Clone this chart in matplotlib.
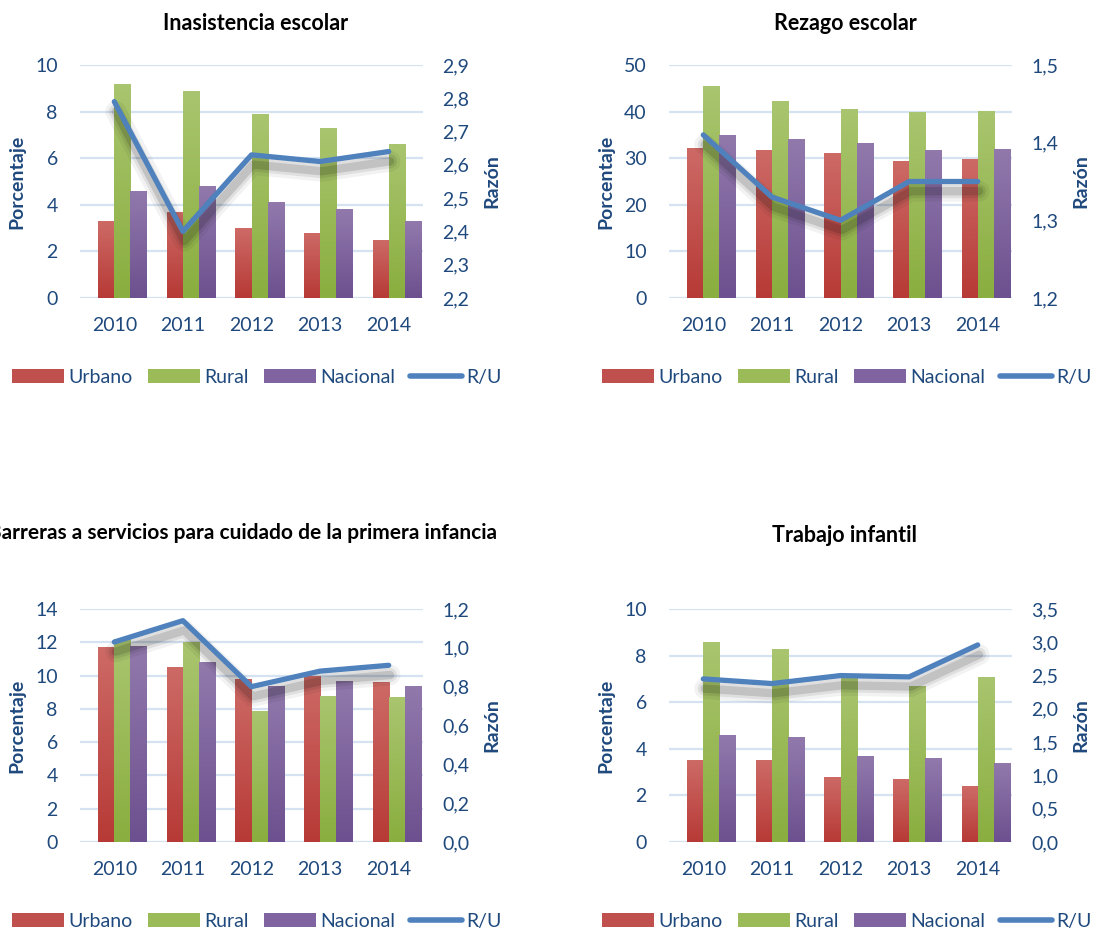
import numpy as np
import matplotlib
matplotlib.use('Agg')
import matplotlib.pyplot as plt
from matplotlib.colors import LinearSegmentedColormap
from matplotlib.lines import Line2D
from matplotlib.patches import Patch
from matplotlib.ticker import FuncFormatter, MultipleLocator
import matplotlib.patheffects as pe

plt.rcParams['font.family'] = ['Lato', 'DejaVu Sans']

years = ['2010', '2011', '2012', '2013', '2014']
series_names = ['Urbano', 'Rural', 'Nacional', 'R/U']

# Inasistencia escolar
inas_urbano = [3.3, 3.7, 3.0, 2.8, 2.5]
inas_rural = [9.2, 8.9, 7.9, 7.3, 6.6]
inas_nacional = [4.6, 4.8, 4.1, 3.8, 3.3]
inas_ru = [2.79, 2.40, 2.63, 2.61, 2.64]

# Rezago escolar
rez_urbano = [32.2, 31.8, 31.1, 29.4, 29.9]
rez_rural = [45.5, 42.3, 40.6, 39.9, 40.1]
rez_nacional = [35.0, 34.1, 33.3, 31.8, 32.0]
rez_ru = [1.41, 1.33, 1.30, 1.35, 1.35]

# Barreras a servicios para cuidado de la primera infancia
barr_urbano = [11.7, 10.5, 9.8, 10.0, 9.6]
barr_rural = [12.2, 12.0, 7.9, 8.8, 8.7]
barr_nacional = [11.8, 10.8, 9.4, 9.7, 9.4]
barr_ru = [1.03, 1.14, 0.80, 0.88, 0.91]

# Trabajo infantil
trab_urbano = [3.5, 3.5, 2.8, 2.7, 2.4]
trab_rural = [8.6, 8.3, 7.1, 6.7, 7.1]
trab_nacional = [4.6, 4.5, 3.7, 3.6, 3.4]
trab_ru = [2.45, 2.38, 2.50, 2.48, 2.96]

TXT = '#1f497d'
GRID = '#d5e2f2'
LINE = '#4f81bd'
grads = [('#cd6a66', '#b73a36'), ('#a9c56f', '#8aae3f'), ('#9179ac', '#6d508f')]
solid = ['#c0504d', '#9bbb59', '#8064a2']

TICK_FS = 14
LABEL_FS = 14
TITLE_FS = 15.5
LEG_FS = 14

W, H = 1093, 930
fig = plt.figure(figsize=(W / 100, H / 100), dpi=100)


def px_axes(x0, ytop, w, h):
    return fig.add_axes([x0 / W, 1 - (ytop + h) / H, w / W, h / H])


def comma(v, pos=None):
    return ('%.1f' % v).replace('.', ',')


def panel(rect, title, title_x, title_dy, title_fs, urb, rur, nac, ru, lmax, lstep, rmin, rmax, rstep):
    ax = px_axes(*rect)
    x = np.arange(len(years))
    wbar = 0.2333
    offs = [-0.1167, 0.1167, 0.35]
    for vals, off, (ctop, cbot), sc in zip([urb, rur, nac], offs, grads, solid):
        bars = ax.bar(x + off, vals, width=wbar, color=sc, zorder=2, linewidth=0)
        cmap = LinearSegmentedColormap.from_list('g', [cbot, ctop])
        grad = np.linspace(0, 1, 64).reshape(-1, 1)
        for b in bars:
            bx, by = b.get_x(), b.get_y()
            im = ax.imshow(grad, cmap=cmap, extent=[bx, bx + b.get_width(), by, by + b.get_height()],
                           origin='lower', aspect='auto', zorder=3, interpolation='bilinear')
            im.set_clip_path(b)
    ax.set_xlim(-0.5, len(years) - 0.5)
    ax.set_ylim(0, lmax)
    ax.set_aspect('auto')
    ax.yaxis.set_major_locator(MultipleLocator(lstep))
    ax.grid(axis='y', color=GRID, linewidth=1.6, zorder=0)
    ax.set_axisbelow(True)
    for s in ax.spines.values():
        s.set_visible(False)
    ax.set_xticks(x)
    ax.set_xticklabels(years)
    ax.tick_params(axis='both', length=0, labelsize=TICK_FS, labelcolor=TXT)
    ax.tick_params(axis='y', pad=16)
    ax.tick_params(axis='x', pad=14)
    ax.set_ylabel('Porcentaje', fontsize=LABEL_FS, fontweight='bold', color=TXT)
    ax.yaxis.set_label_coords(-0.16, 0.5)

    ax2 = ax.twinx()
    ax2.plot(x, ru, color=LINE, linewidth=3.8, solid_joinstyle='round', solid_capstyle='round', zorder=5,
             path_effects=[pe.SimpleLineShadow(offset=(1, -7), shadow_color='#000000', alpha=0.05, linewidth=15),
                           pe.SimpleLineShadow(offset=(1, -7), shadow_color='#000000', alpha=0.08, linewidth=10),
                           pe.SimpleLineShadow(offset=(1, -7), shadow_color='#000000', alpha=0.13, linewidth=6),
                           pe.Normal()])
    ax2.set_ylim(rmin, rmax)
    ax2.set_yticks(np.arange(rmin, rmax + rstep / 2, rstep))
    ax2.yaxis.set_major_formatter(FuncFormatter(comma))
    for s in ax2.spines.values():
        s.set_visible(False)
    ax2.tick_params(axis='y', length=0, labelsize=TICK_FS, labelcolor=TXT, pad=14)
    ax2.set_ylabel('Razón', fontsize=LABEL_FS, fontweight='bold', color=TXT)
    ax2.yaxis.set_label_coords(1.175, 0.5)

    fig.text(title_x / W, 1 - title_dy / H, title, ha='center', va='center', fontsize=title_fs,
             fontweight='bold', color='black')
    return ax


panel((80, 65, 343, 233), 'Inasistencia escolar', 256, 23, TITLE_FS,
      inas_urbano, inas_rural, inas_nacional, inas_ru, 10, 2, 2.2, 2.9, 0.1)
panel((669, 65, 343, 233), 'Rezago escolar', 845, 23, TITLE_FS,
      rez_urbano, rez_rural, rez_nacional, rez_ru, 50, 10, 1.2, 1.5, 0.1)
panel((80, 609, 343, 233), 'Barreras a servicios para cuidado de la primera infancia', 242, 533, 15,
      barr_urbano, barr_rural, barr_nacional, barr_ru, 14, 2, 0.0, 1.2, 0.2)
panel((669, 609, 343, 233), 'Trabajo infantil', 845, 536, TITLE_FS,
      trab_urbano, trab_rural, trab_nacional, trab_ru, 10, 2, 0.0, 3.5, 0.5)

handles = [Patch(facecolor=c, edgecolor='none') for c in solid]
handles.append(Line2D([], [], color=LINE, linewidth=4, solid_capstyle='round'))
for cx, cy in [(257, 377), (847, 377), (257, 921), (847, 921)]:
    fig.legend(handles, series_names, loc='center', bbox_to_anchor=(cx / W, 1 - cy / H), ncol=4,
               frameon=False, fontsize=LEG_FS, labelcolor=TXT, handlelength=2.67, handleheight=0.7,
               handletextpad=0.2, columnspacing=0.8, borderpad=0, borderaxespad=0)

fig.savefig('out.png', dpi=100)
